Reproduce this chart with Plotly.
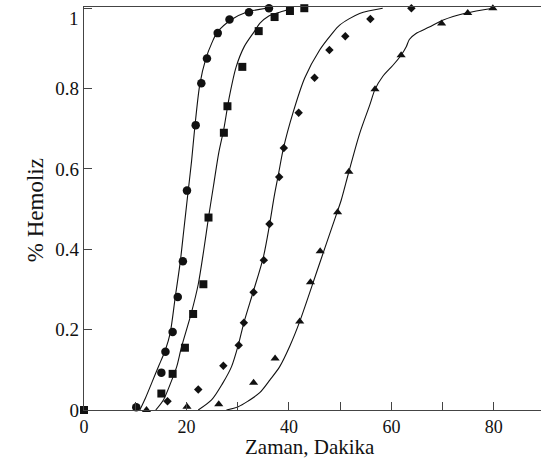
import plotly.graph_objects as go

# ---- data ----
circle_x = [10.2, 15.1, 15.9, 17.3, 18.3, 19.3, 20.1, 21.8, 22.9, 24.0, 26.1, 28.4, 32.2, 36.1]
circle_y = [0.007, 0.093, 0.145, 0.194, 0.281, 0.37, 0.546, 0.709, 0.813, 0.875, 0.938, 0.972, 0.99, 1.0]

square_x = [0.0, 15.1, 17.3, 19.7, 21.3, 23.3, 24.3, 27.3, 28.0, 30.9, 34.1, 37.2, 40.2, 43.0]
square_y = [0.0, 0.041, 0.09, 0.155, 0.239, 0.313, 0.479, 0.69, 0.756, 0.854, 0.943, 0.978, 0.993, 1.0]

diamond_x = [16.3, 22.3, 27.2, 30.2, 31.2, 33.1, 35.1, 36.2, 38.1, 39.0, 41.9, 45.0, 47.9, 51.0, 55.9, 63.9]
diamond_y = [0.022, 0.051, 0.11, 0.161, 0.217, 0.293, 0.373, 0.463, 0.58, 0.652, 0.74, 0.827, 0.896, 0.93, 0.973, 1.0]

triangle_x = [12.2, 20.1, 26.3, 33.1, 37.3, 42.1, 44.2, 46.1, 49.5, 51.7, 56.8, 61.9, 69.8, 74.9, 79.8]
triangle_y = [0.0, 0.008, 0.014, 0.068, 0.128, 0.22, 0.318, 0.395, 0.492, 0.593, 0.798, 0.883, 0.962, 0.988, 1.0]

# fitted curves
curve1_x = [10.9, 12.0, 13.3, 14.6, 15.9, 16.8, 17.8, 18.8, 19.5, 20.2, 21.0, 21.6, 22.6, 23.8, 25.0, 26.0, 28.8, 31.7, 35.6]
curve1_y = [0.0, 0.03, 0.07, 0.11, 0.15, 0.19, 0.28, 0.37, 0.45, 0.53, 0.62, 0.70, 0.81, 0.875, 0.915, 0.94, 0.972, 0.99, 1.0]

curve2_x = [14.0, 15.5, 17.0, 18.1, 19.0, 20.9, 22.3, 23.4, 24.3, 25.3, 26.3, 27.3, 28.3, 29.7, 31.3, 33.3, 34.3, 36.0, 38.2, 40.7]
curve2_y = [0.0, 0.025, 0.07, 0.108, 0.155, 0.239, 0.313, 0.40, 0.479, 0.56, 0.64, 0.70, 0.775, 0.854, 0.905, 0.943, 0.962, 0.98, 0.99, 1.0]

curve3_x = [22.3, 24.9, 27.0, 28.8, 30.1, 31.2, 33.0, 35.0, 36.2, 37.1, 38.0, 38.9, 40.8, 43.1, 46.0, 48.3, 49.9, 53.8, 58.3]
curve3_y = [0.0, 0.025, 0.065, 0.108, 0.161, 0.217, 0.293, 0.38, 0.46, 0.53, 0.59, 0.65, 0.74, 0.827, 0.896, 0.935, 0.958, 0.987, 1.0]

curve4_x = [27.8, 30.1, 32.0, 34.3, 36.3, 38.2, 40.2, 42.1, 45.75, 49.4, 50.2, 51.7, 53.8, 55.8, 56.8, 58.3, 60.3, 61.9, 62.9, 63.5, 64.8, 67.4, 70.0, 74.6, 79.8]
curve4_y = [0.0, 0.008, 0.022, 0.043, 0.075, 0.108, 0.16, 0.22, 0.356, 0.492, 0.522, 0.593, 0.688, 0.76, 0.798, 0.83, 0.858, 0.883, 0.904, 0.922, 0.937, 0.953, 0.970, 0.988, 1.0]

x_tick_vals = [0, 20, 40, 60, 80]
x_tick_text = ["0", "20", "40", "60", "80"]
y_tick_vals = [0, 0.2, 0.4, 0.6, 0.8, 1]
y_tick_text = ["0", "0.2", "0.4", "0.6", "0.8", "1"]
x_title = "Zaman, Dakika"
y_title = "% Hemoliz"

FONT = "Liberation Serif"
INK = "#111111"
AX = "#444444"

fig = go.Figure()
for cx, cy in [(curve1_x, curve1_y), (curve2_x, curve2_y), (curve3_x, curve3_y), (curve4_x, curve4_y)]:
    fig.add_trace(go.Scatter(x=cx, y=cy, mode="lines",
                             line=dict(color=INK, width=1.1, shape="spline", smoothing=0.8),
                             hoverinfo="skip", showlegend=False, cliponaxis=False))

for mx, my, sym, sz in [(circle_x, circle_y, "circle", 8.5),
                        (square_x, square_y, "square", 8),
                        (diamond_x, diamond_y, "diamond", 6.5),
                        (triangle_x, triangle_y, "triangle-up", 8)]:
    fig.add_trace(go.Scatter(x=mx, y=my, mode="markers",
                             marker=dict(symbol=sym, size=sz, color=INK, line=dict(width=0)),
                             showlegend=False, cliponaxis=False))

axis_common = dict(
    showgrid=False, zeroline=False, showline=True, linecolor=AX, linewidth=1.3,
    mirror=True, ticks="inside", ticklen=8, tickwidth=1, tickcolor=AX,
    automargin=False, ticklabeloverflow="allow",
)

# the top y label ("1") sits slightly below its tick in the reference, so it is
# drawn as an annotation anchored to that tick value
y_axis_text = y_tick_text[:-1] + [""]

fig.update_layout(
    width=541, height=458,
    margin=dict(l=84, r=0, t=7, b=48),
    paper_bgcolor="white", plot_bgcolor="white",
    xaxis=dict(range=[0, 89.2], tickmode="array", tickvals=x_tick_vals, ticktext=x_tick_text,
               tickfont=dict(family=FONT, size=18, color=INK),
               minor=dict(dtick=10, ticks="inside", ticklen=8, tickcolor=AX),
               **axis_common),
    yaxis=dict(range=[0, 1.003], tickmode="array", tickvals=y_tick_vals, ticktext=y_axis_text,
               tickfont=dict(family=FONT, size=19, color=INK),
               **axis_common),
    annotations=[
        dict(text=x_title, xref="paper", yref="paper", x=0.495, y=-0.119,
             xanchor="center", yanchor="bottom", yshift=-2, borderpad=0, showarrow=False,
             font=dict(family=FONT, size=21, color=INK)),
        dict(text=y_title, xref="paper", yref="paper", x=-0.107, y=0.496,
             xanchor="center", yanchor="middle", showarrow=False, textangle=-90,
             font=dict(family=FONT, size=23, color=INK)),
        dict(text=y_tick_text[-1], xref="paper", yref="y", x=0, y=y_tick_vals[-1],
             xanchor="right", yanchor="top", xshift=-3, yshift=2, showarrow=False,
             font=dict(family=FONT, size=19, color=INK)),
    ],
)

fig.write_html("out.html", config={"displayModeBar": False},
               post_script="document.body.style.margin='0';document.body.style.padding='0';")
